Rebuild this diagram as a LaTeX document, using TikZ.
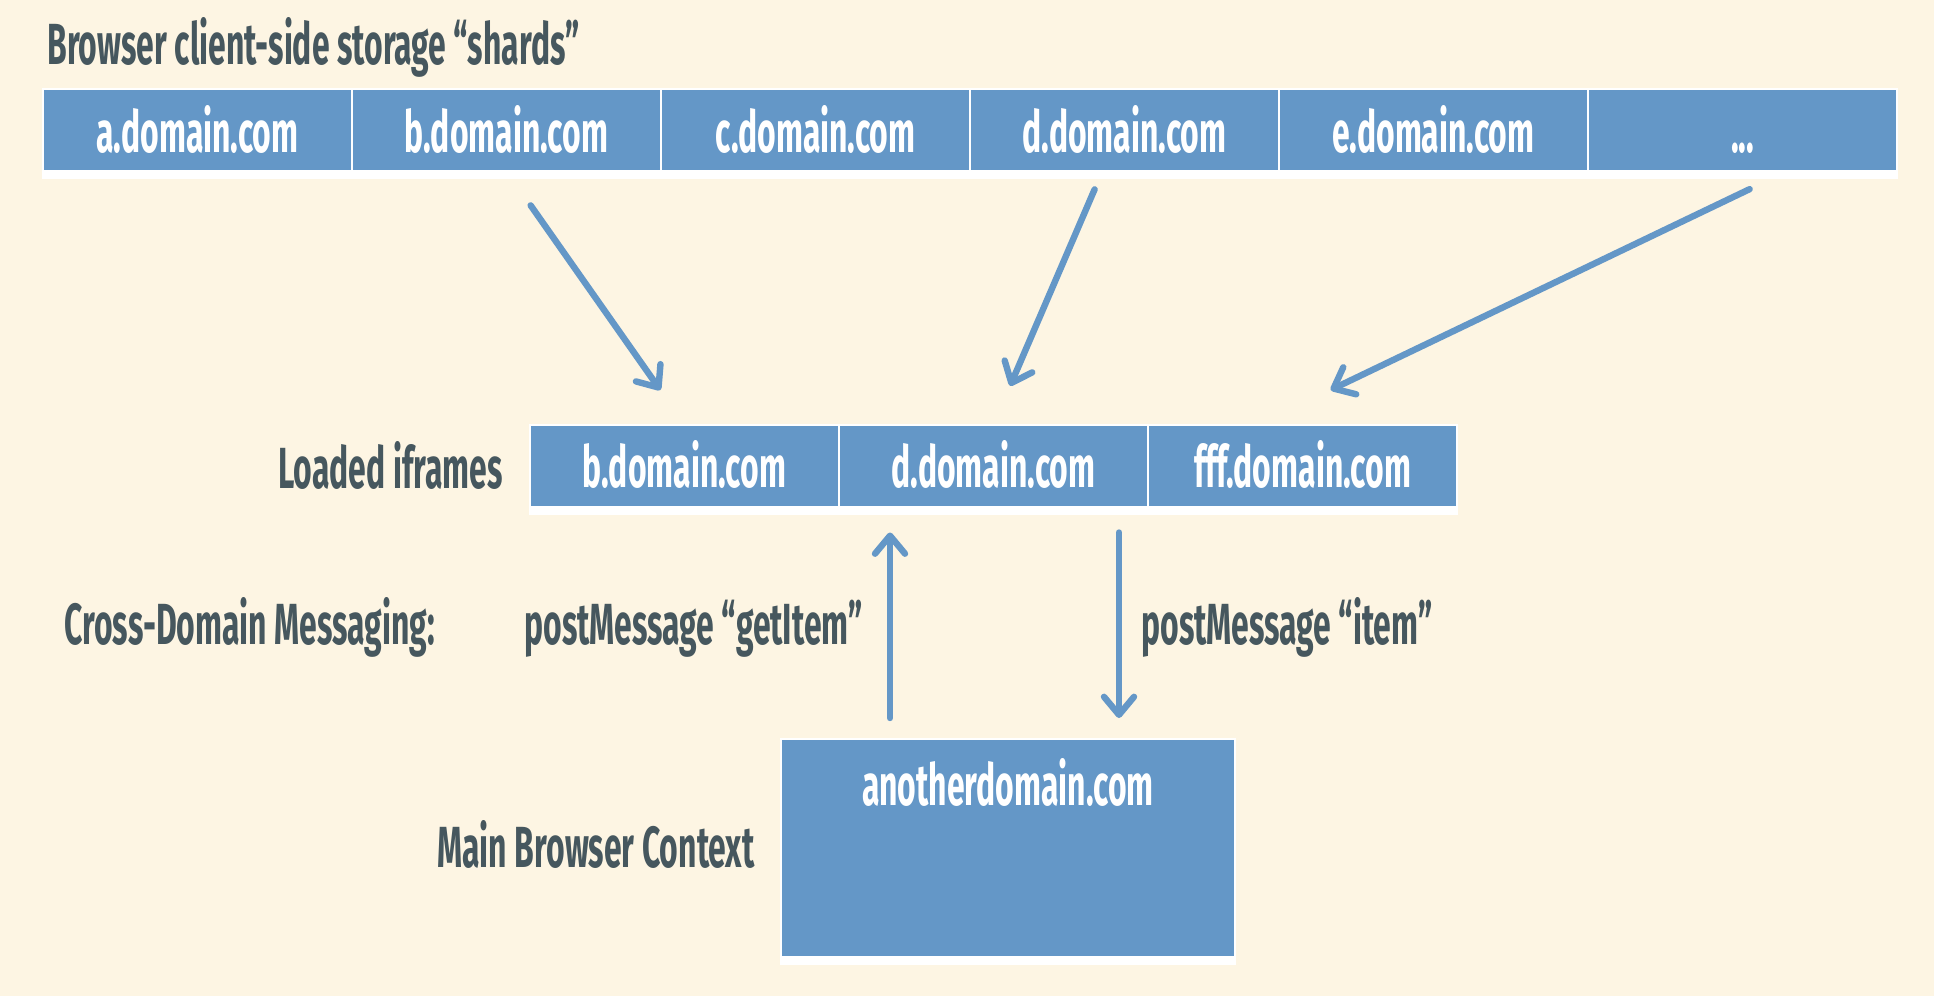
\documentclass[tikz,border=0pt]{standalone}
\usepackage{fontspec}
\setmainfont{Fira Sans}[FakeStretch=0.55]
\usetikzlibrary{positioning,arrows.meta,backgrounds}

\definecolor{bgcream}{RGB}{253,245,227}
\definecolor{cellblue}{RGB}{100,151,199}
\definecolor{slate}{RGB}{70,87,94}

\begin{document}
\begin{tikzpicture}[
    x=0.5pt, y=-0.5pt,
    shard/.style={rectangle, draw=white, line width=1pt, fill=cellblue, text=white,
        minimum width=154.5pt, minimum height=41pt, inner sep=0pt, outer sep=0pt,
        text height=22pt, text depth=0pt,
        font=\bfseries\fontsize{29}{32}\selectfont},
    caption/.style={text=slate, inner sep=0pt, font=\bfseries\fontsize{29}{32}\selectfont},
    flow/.style={draw=cellblue, line width=3.2pt, line cap=round,
        -{Straight Barb[length=9pt,width=15pt,round]}}
]
% storage shards
\node[shard, anchor=west] (a) at (43,130) {a.domain.com};
\node[shard, right=0pt of a] (b) {b.domain.com};
\node[shard, right=0pt of b] (c) {c.domain.com};
\node[shard, right=0pt of c] (d) {d.domain.com};
\node[shard, right=0pt of d] (e) {e.domain.com};
\node[shard, right=0pt of e] (dots) {...};
\node[caption, anchor=base west] (title) at (47,64) {Browser client-side storage “shards”};

% loaded iframes
\node[shard, anchor=west] (ifrb) at (530,465.5) {b.domain.com};
\node[shard, right=0pt of ifrb] (ifrd) {d.domain.com};
\node[shard, right=0pt of ifrd] (ifrf) {fff.domain.com};
\node[caption, left=13.5pt of ifrb] (loaded) {Loaded iframes};

% main context
\node[shard, minimum width=227pt, minimum height=109pt, text height=0pt, text depth=0pt] (main) at (1008,848) {};
\node[shard, draw=none, fill=none] (maintxt) at ([yshift=-22pt]main.north) {anotherdomain.com};
\node[caption, left=13pt of main, yshift=2pt] (mainlbl) {Main Browser Context};

% messaging
\node[caption, anchor=base west] (cdm) at (64,644) {Cross-Domain Messaging:};
\node[caption, anchor=base east] (getmsg) at (863,644) {postMessage “getItem”};
\node[caption, anchor=base west] (itemmsg) at (1141,644) {postMessage “item”};

\coordinate (getx) at (890,0);
\coordinate (itemx) at (1119,0);

\draw[flow, shorten <=21pt, shorten >=21pt] (b.south) -- (ifrb.north);
\draw[flow, shorten <=10pt, shorten >=21pt] ([xshift=-11pt]d.south) -- (ifrd.north);
\draw[flow, shorten <=21pt, shorten >=40pt] ([xshift=22.5pt]dots.south) -- ([xshift=-22pt]ifrf.north);
\draw[flow, shorten <=10.5pt, shorten >=13pt] (main.north -| getx) -- (ifrd.south -| getx);
\draw[flow, shorten <=13pt, shorten >=10.5pt] (ifrd.south -| itemx) -- (main.north -| itemx);

\begin{pgfonlayer}{background}
\fill[bgcream] (0,0) rectangle (1934,996);
\fill[white] ([shift={(-0.5pt,0.5pt)}]a.north west) rectangle ([shift={(0.5pt,-4pt)}]dots.south east);
\fill[white] ([shift={(-0.5pt,0.5pt)}]ifrb.north west) rectangle ([shift={(0.5pt,-4pt)}]ifrf.south east);
\fill[white] ([shift={(-0.5pt,0.5pt)}]main.north west) rectangle ([shift={(0.5pt,-4pt)}]main.south east);
\end{pgfonlayer}
\end{tikzpicture}
\end{document}
